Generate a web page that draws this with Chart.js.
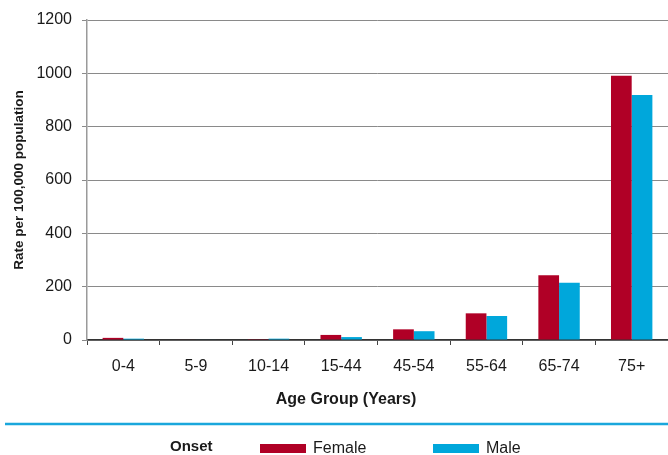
<!DOCTYPE html>
<html>
<head>
<meta charset="utf-8">
<script src="https://cdn.jsdelivr.net/npm/chart.js@4.4.1/dist/chart.umd.min.js"></script>
<style>
  html, body { margin: 0; padding: 0; background: #fff; }
  #wrap { width: 668px; height: 455px; position: relative; }
</style>
</head>
<body>
<div id="wrap"><canvas id="barChart" width="668" height="455"></canvas></div>
<script>
const ageGroups = ['0-4', '5-9', '10-14', '15-44', '45-54', '55-64', '65-74', '75+'];
const femaleRates = [8, 2, 3, 19, 40, 100, 243, 991];
const maleRates = [5, 2, 5, 11, 33, 90, 215, 919];
const yTicks = [0, 200, 400, 600, 800, 1000, 1200];

const FONT = "'Liberation Sans', Arial, Helvetica, sans-serif";
const TEXT = '#1a1a1a';

// draws x axis title, the blue rule and the "Onset" legend row
const extrasPlugin = {
  id: 'extras',
  afterDraw(chart) {
    const ctx = chart.ctx;
    ctx.save();
    ctx.fillStyle = TEXT;
    ctx.textBaseline = 'alphabetic';

    ctx.font = `bold 16px ${FONT}`;
    ctx.textAlign = 'center';
    ctx.fillText('Age Group (Years)', 346, 404);

    ctx.strokeStyle = '#1aa7dc';
    ctx.lineWidth = 2.5;
    ctx.beginPath();
    ctx.moveTo(5, 424);
    ctx.lineTo(668, 424);
    ctx.stroke();

    ctx.textAlign = 'left';
    ctx.font = `bold 15px ${FONT}`;
    ctx.fillText('Onset', 170, 451);

    const items = [{ x: 260 }, { x: 433 }];
    chart.data.datasets.forEach((ds, i) => {
      const x = items[i].x;
      ctx.fillStyle = ds.backgroundColor;
      ctx.fillRect(x, 444, 46, 9);
      ctx.fillStyle = TEXT;
      ctx.font = `16px ${FONT}`;
      ctx.fillText(ds.label, x + 53, 453);
    });
    ctx.restore();
  }
};

function buildChart() {
  const canvas = document.getElementById('barChart');
  new Chart(canvas, {
    type: 'bar',
    data: {
      labels: ageGroups,
      datasets: [
        {
          label: 'Female',
          data: femaleRates,
          backgroundColor: '#b00026',
          categoryPercentage: 0.57,
          barPercentage: 1.0
        },
        {
          label: 'Male',
          data: maleRates,
          backgroundColor: '#00a7db',
          categoryPercentage: 0.57,
          barPercentage: 1.0
        }
      ]
    },
    options: {
      responsive: false,
      animation: false,
      layout: { padding: { top: 20, right: 0, left: 0, bottom: 0 } },
      plugins: {
        legend: { display: false },
        tooltip: { enabled: false }
      },
      scales: {
        x: {
          afterFit(scale) { scale.height = 115; },
          grid: {
            drawOnChartArea: false,
            tickLength: 5,
            color: '#444'
          },
          border: { color: '#333', width: 1.5 },
          ticks: {
            color: TEXT,
            padding: 12,
            font: { family: FONT, size: 16 }
          }
        },
        y: {
          min: 0,
          max: 1200,
          afterFit(scale) { scale.width = 87; },
          afterBuildTicks(scale) {
            scale.ticks = yTicks.map(v => ({ value: v }));
          },
          grid: {
            color: '#8a8a8a',
            tickLength: 5
          },
          border: { color: '#9a9a9a', width: 1.5 },
          ticks: {
            color: TEXT,
            padding: 10,
            font: { family: FONT, size: 16 },
            callback: (v) => String(v)
          },
          title: {
            display: true,
            text: 'Rate per 100,000 population',
            color: TEXT,
            padding: { top: 11, bottom: 0 },
            font: { family: FONT, size: 13.5, weight: 'bold' }
          }
        }
      }
    },
    plugins: [extrasPlugin]
  });
}

window.addEventListener('DOMContentLoaded', buildChart);
</script>
</body>
</html>
